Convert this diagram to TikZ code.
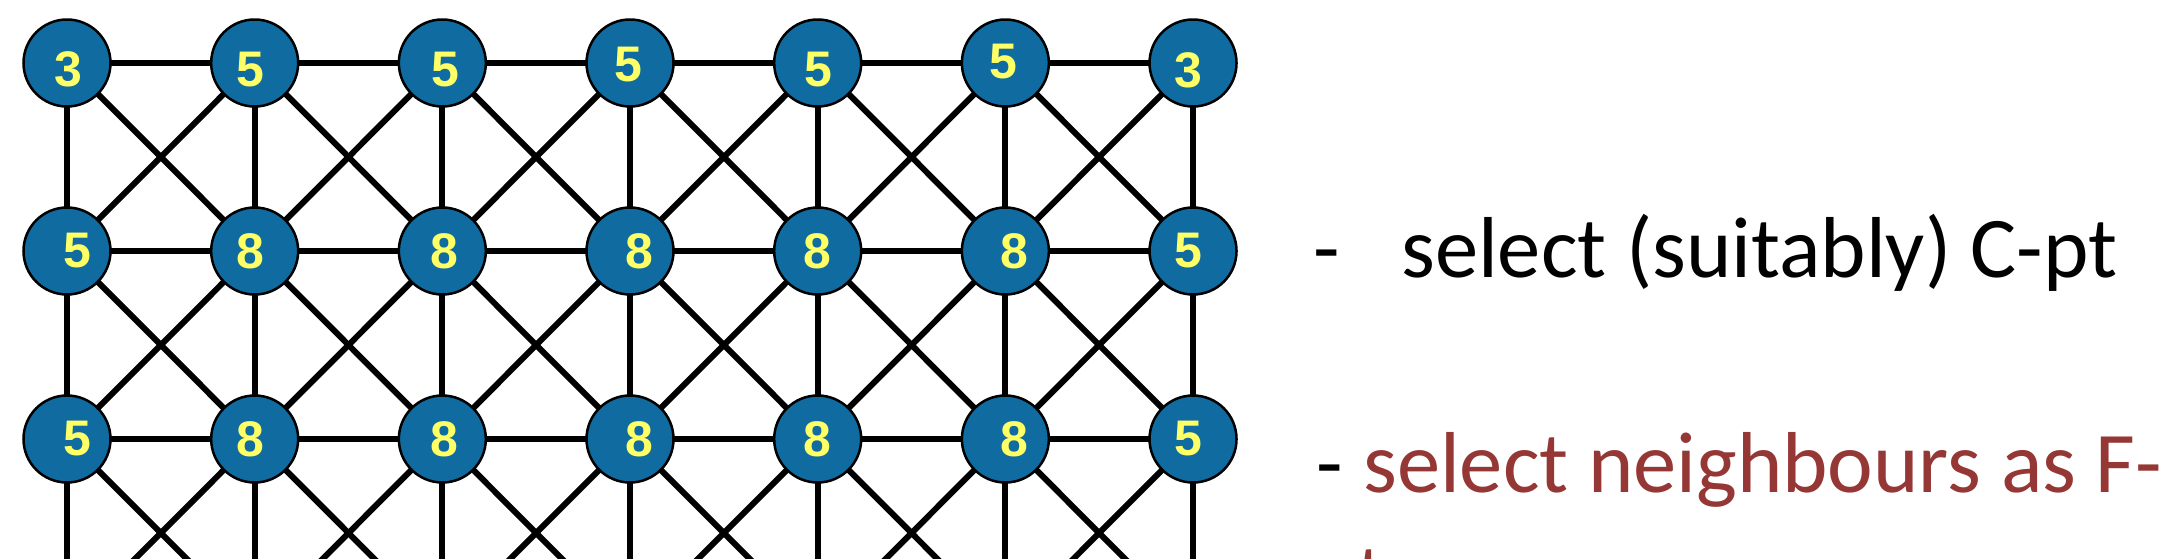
\documentclass[tikz,border=0pt]{standalone}
\usepackage{fontspec}
\setmainfont{Carlito}
\newfontfamily\numfont{Liberation Sans}
\definecolor{nodeblue}{HTML}{106CA0}
\definecolor{numyellow}{HTML}{FFFF66}
\definecolor{darkred}{HTML}{953735}
\begin{document}
\begin{tikzpicture}[x=1pt,y=-1pt,
  ptnode/.style={circle,draw=black,line width=2.5pt,fill=nodeblue,minimum size=87pt,inner sep=0pt},
  numlab/.style={text=numyellow,font=\numfont\bfseries\fontsize{50}{50}\selectfont,inner sep=0pt},
  edgeline/.style={line width=6pt,black},
  txt/.style={font=\fontsize{86.5}{104}\selectfont,inner sep=0pt,anchor=base west}]
\useasboundingbox (0,0) rectangle (2168,558);
\fill[white] (0,0) rectangle (2168,558);
\begin{scope}
\clip (0,0) rectangle (2168,558);
% grid coordinates
\foreach \r in {1,...,4}{
  \foreach \c in {1,...,7}{
    \coordinate (p-\r-\c) at ({67+187.67*(\c-1)},{63+188*(\r-1)});
  }
}
% horizontal edges
\foreach \r in {1,2,3}{
  \foreach \c [evaluate=\c as \cn using int(\c+1)] in {1,...,6}{
    \draw[edgeline] (p-\r-\c) -- (p-\r-\cn);
  }
}
% vertical edges
\foreach \r [evaluate=\r as \rn using int(\r+1)] in {1,2,3}{
  \foreach \c in {1,...,7}{
    \draw[edgeline] (p-\r-\c) -- (p-\rn-\c);
  }
}
% diagonal edges
\foreach \r [evaluate=\r as \rn using int(\r+1)] in {1,2,3}{
  \foreach \c [evaluate=\c as \cn using int(\c+1)] in {1,...,6}{
    \draw[edgeline] (p-\r-\c) -- (p-\rn-\cn);
    \draw[edgeline] (p-\r-\cn) -- (p-\rn-\c);
  }
}
% nodes
\foreach \r/\vals in {1/{3/1/6,5/-4/7,5/3/7,5/-2/2,5/1/7,5/-2/-1,3/-5/7},
                      2/{5/10/0,8/-4/0,8/2/0,8/9/0,8/0/0,8/9/0,5/-5/0},
                      3/{5/10/0,8/-4/0,8/2/0,8/9/0,8/0/0,8/9/0,5/-5/0}}{
  \foreach \v/\dx/\dy [count=\c] in \vals{
    \node[ptnode] (n-\r-\c) at (p-\r-\c) {};
    \node[numlab] (l-\r-\c) at ([xshift=\dx pt,yshift=-\dy pt]n-\r-\c.center) {\v};
  }
}
\end{scope}
% text
\node[txt] (d1) at (1313,277) {-};
\node[txt] (s1) at (1401,277) {select (suitably) C-pt};
\node[txt] (d2) at (1316,492) {-};
\node[txt,text=darkred] (s2) at (1363,492) {select neighbours as F-};
\begin{scope}
\clip (0,0) rectangle (2168,558);
\node[txt,text=darkred] (s3) at (1311,604) {pts};
\end{scope}
\end{tikzpicture}
\end{document}
